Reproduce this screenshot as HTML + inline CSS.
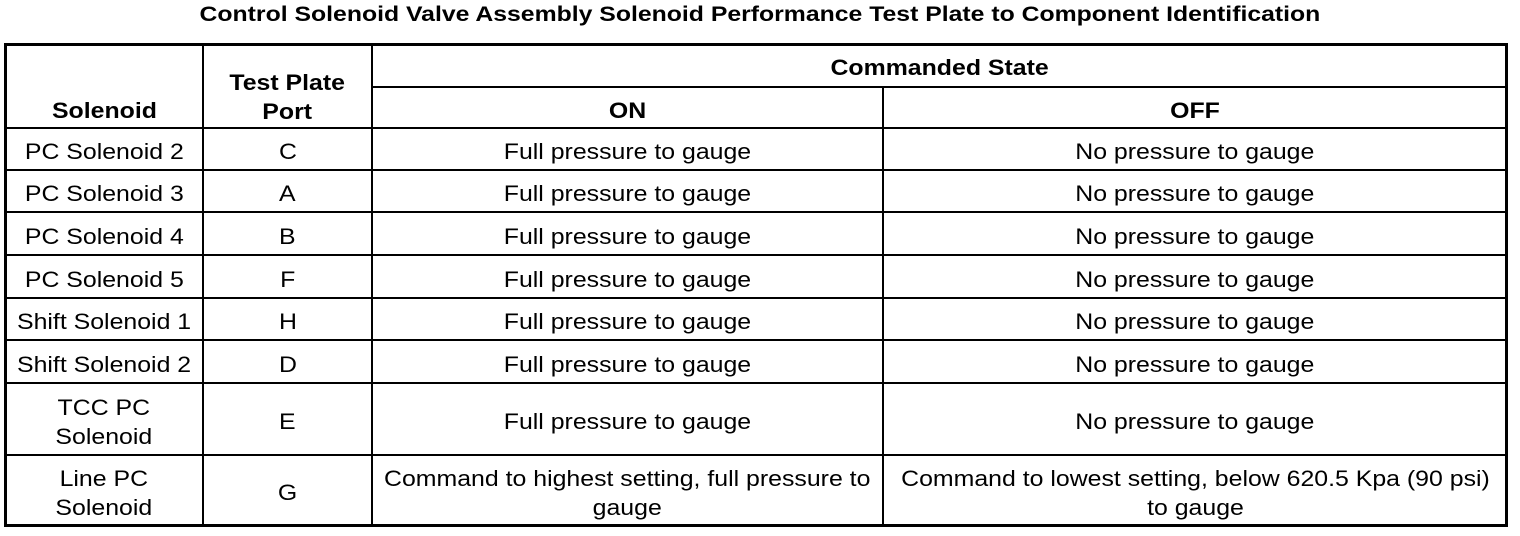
<!DOCTYPE html><html><head><style>
body{margin:0;width:1520px;height:536px;background:#fff;position:relative;font-family:"Liberation Sans",Arial,sans-serif;color:#000;overflow:hidden}
.t{position:absolute;left:0;width:1520px;top:3px;text-align:center;font-weight:bold;font-size:21px}
.t span{display:inline-block;transform:scaleX(1.18)}
.c span{display:inline-block;transform:scaleX(1.13)}
.b{position:absolute;border:3px solid #000;left:4px;top:43px;width:1498px;height:478px}
.h,.v{position:absolute;background:#000}
.c{position:absolute;display:flex;align-items:center;justify-content:center;text-align:center;font-size:22px;line-height:29px;padding-top:5px;box-sizing:border-box}
.bd{font-weight:bold}
</style></head><body>
<div class="t"><span>Control Solenoid Valve Assembly Solenoid Performance Test Plate to Component Identification</span></div>
<div class="b"></div>
<div class="v" style="left:202px;top:45px;width:2px;height:480px"></div>
<div class="v" style="left:371px;top:45px;width:2px;height:480px"></div>
<div class="v" style="left:882px;top:87px;width:2px;height:438px"></div>
<div class="h" style="left:372px;top:86px;width:1134px;height:2px"></div>
<div class="h" style="left:6px;top:127px;width:1500px;height:2px"></div>
<div class="h" style="left:6px;top:169px;width:1500px;height:2px"></div>
<div class="h" style="left:6px;top:211px;width:1500px;height:2px"></div>
<div class="h" style="left:6px;top:254px;width:1500px;height:2px"></div>
<div class="h" style="left:6px;top:297px;width:1500px;height:2px"></div>
<div class="h" style="left:6px;top:339px;width:1500px;height:2px"></div>
<div class="h" style="left:6px;top:382px;width:1500px;height:2px"></div>
<div class="h" style="left:6px;top:454px;width:1500px;height:2px"></div>

<div class="c bd" style="left:6px;top:88px;width:196px;height:40px"><span>Solenoid</span></div>
<div class="c bd" style="left:204px;top:62px;width:167px;height:64px"><span>Test Plate<br>Port</span></div>
<div class="c bd" style="left:373px;top:45px;width:1133px;height:40px"><span>Commanded State</span></div>
<div class="c bd" style="left:373px;top:88px;width:509px;height:39px"><span>ON</span></div>
<div class="c bd" style="left:884px;top:88px;width:622px;height:39px"><span>OFF</span></div>

<div class="c" style="left:6px;top:129px;width:196px;height:40px"><span>PC Solenoid 2</span></div><div class="c" style="left:204px;top:129px;width:167px;height:40px"><span>C</span></div><div class="c" style="left:373px;top:129px;width:509px;height:40px"><span>Full pressure to gauge</span></div><div class="c" style="left:884px;top:129px;width:622px;height:40px"><span>No pressure to gauge</span></div>
<div class="c" style="left:6px;top:171px;width:196px;height:40px"><span>PC Solenoid 3</span></div><div class="c" style="left:204px;top:171px;width:167px;height:40px"><span>A</span></div><div class="c" style="left:373px;top:171px;width:509px;height:40px"><span>Full pressure to gauge</span></div><div class="c" style="left:884px;top:171px;width:622px;height:40px"><span>No pressure to gauge</span></div>
<div class="c" style="left:6px;top:213px;width:196px;height:41px"><span>PC Solenoid 4</span></div><div class="c" style="left:204px;top:213px;width:167px;height:41px"><span>B</span></div><div class="c" style="left:373px;top:213px;width:509px;height:41px"><span>Full pressure to gauge</span></div><div class="c" style="left:884px;top:213px;width:622px;height:41px"><span>No pressure to gauge</span></div>
<div class="c" style="left:6px;top:256px;width:196px;height:41px"><span>PC Solenoid 5</span></div><div class="c" style="left:204px;top:256px;width:167px;height:41px"><span>F</span></div><div class="c" style="left:373px;top:256px;width:509px;height:41px"><span>Full pressure to gauge</span></div><div class="c" style="left:884px;top:256px;width:622px;height:41px"><span>No pressure to gauge</span></div>
<div class="c" style="left:6px;top:299px;width:196px;height:40px"><span>Shift Solenoid 1</span></div><div class="c" style="left:204px;top:299px;width:167px;height:40px"><span>H</span></div><div class="c" style="left:373px;top:299px;width:509px;height:40px"><span>Full pressure to gauge</span></div><div class="c" style="left:884px;top:299px;width:622px;height:40px"><span>No pressure to gauge</span></div>
<div class="c" style="left:6px;top:341px;width:196px;height:41px"><span>Shift Solenoid 2</span></div><div class="c" style="left:204px;top:341px;width:167px;height:41px"><span>D</span></div><div class="c" style="left:373px;top:341px;width:509px;height:41px"><span>Full pressure to gauge</span></div><div class="c" style="left:884px;top:341px;width:622px;height:41px"><span>No pressure to gauge</span></div>
<div class="c" style="left:6px;top:384px;width:196px;height:70px"><span>TCC PC<br>Solenoid</span></div><div class="c" style="left:204px;top:384px;width:167px;height:70px"><span>E</span></div><div class="c" style="left:373px;top:384px;width:509px;height:70px"><span>Full pressure to gauge</span></div><div class="c" style="left:884px;top:384px;width:622px;height:70px"><span>No pressure to gauge</span></div>
<div class="c" style="left:6px;top:456px;width:196px;height:68px"><span>Line PC<br>Solenoid</span></div><div class="c" style="left:204px;top:456px;width:167px;height:68px"><span>G</span></div><div class="c" style="left:373px;top:456px;width:509px;height:68px"><span>Command to highest setting, full pressure to<br>gauge</span></div><div class="c" style="left:884px;top:456px;width:622px;height:68px"><span>Command to lowest setting, below 620.5 Kpa (90 psi)<br>to gauge</span></div>
</body></html>
